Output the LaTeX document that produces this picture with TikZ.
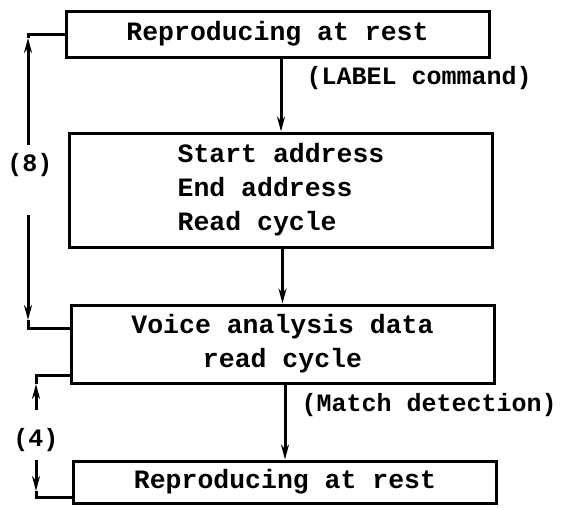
\documentclass[tikz,border=0pt]{standalone}
\usepackage{fontspec}
\setmonofont{Liberation Mono}
\usetikzlibrary{arrows.meta}

\begin{document}
\begin{tikzpicture}[x=1pt,y=-1pt,
    font=\fontsize{26.5}{34}\selectfont\ttfamily\bfseries,
    stagebox/.style={draw,line width=3pt,minimum width=423pt,inner sep=0pt},
    flow/.style={line width=3pt},
    tip/.style={-{Stealth[length=15pt,width=8pt]}},
    note/.style={font=\fontsize{25}{30}\selectfont\ttfamily\bfseries}]
  \useasboundingbox (0,0) rectangle (579,507);
  % the four stages
  \node[stagebox,minimum height=46pt] (rest1) at (277.5,34) {Reproducing at rest};
  \node[stagebox,minimum height=114pt,align=left] (addr) at (281,190)
    {Start address\\End address\\Read cycle};
  \node[stagebox,minimum height=78pt,align=center] (voice) at (282.5,344)
    {Voice analysis data\\read cycle};
  \node[stagebox,minimum height=42pt] (rest2) at (285,482) {Reproducing at rest};
  % downward flow
  \draw[flow,tip] (addr.north |- rest1.south) -- (addr.north);
  \draw[flow,tip] (voice.north |- addr.south) -- (voice.north);
  \draw[flow,tip] (rest2.north |- voice.south) -- (rest2.north);
  \node[note,anchor=west] (labelcmd) at (303,78) {(LABEL command)};
  \node[note,anchor=west] (matchdet) at (298,405) {(Match detection)};
  % loop (8)
  \coordinate (e8up) at (28,145);
  \coordinate (h8up) at (28,38);
  \coordinate (e8dn) at (28,215);
  \coordinate (h8dn) at (28,320);
  \node[note] (n8) at (30,165) {(8)};
  \draw[flow,tip] (e8up) -- (h8up);
  \draw[flow] (h8up) |- (rest1.west);
  \draw[flow,tip] (e8dn) -- (h8dn);
  \draw[flow] (h8dn) |- ([yshift=16pt]voice.west);
  % loop (4)
  \coordinate (e4up) at (36,410);
  \coordinate (h4up) at (36,384);
  \coordinate (e4dn) at (36,460);
  \coordinate (h4dn) at (36,491);
  \node[note] (n4) at (36,440) {(4)};
  \draw[flow,tip] (e4up) -- (h4up);
  \draw[flow] (h4up) |- ([yshift=-31pt]voice.west);
  \draw[flow,tip] (e4dn) -- (h4dn);
  \draw[flow] (h4dn) |- ([yshift=-15pt]rest2.west);
\end{tikzpicture}
\end{document}
